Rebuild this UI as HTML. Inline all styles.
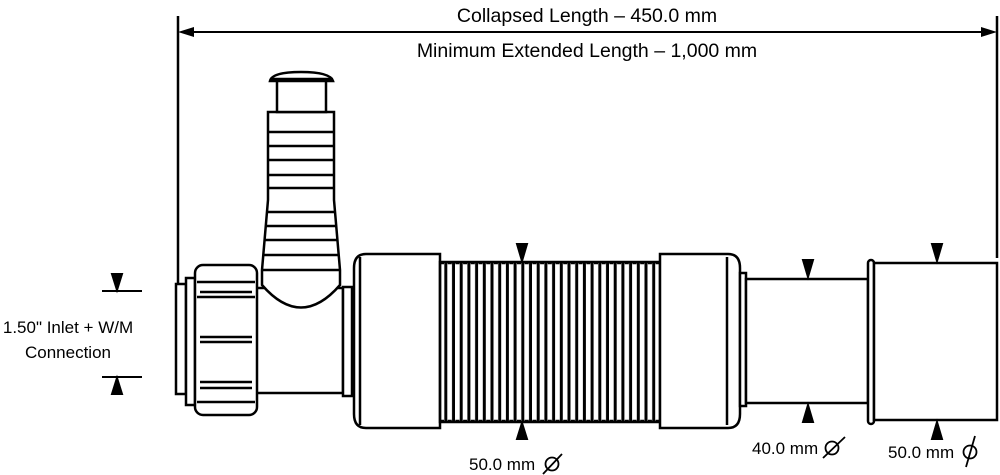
<!DOCTYPE html>
<html><head><style>html,body{margin:0;padding:0;background:#fff}svg{display:block}</style></head>
<body>
<svg width="1000" height="475" viewBox="0 0 1000 475" xmlns="http://www.w3.org/2000/svg" font-family="Liberation Sans, sans-serif">
<defs>
<pattern id="corr" x="442" y="0" width="7.7" height="10" patternUnits="userSpaceOnUse">
<line x1="3.8" y1="0" x2="3.8" y2="10" stroke="#000" stroke-width="3"/>
</pattern>
</defs>
<g stroke="#000" fill="none" stroke-width="2.5">
<line x1="178" y1="16" x2="178" y2="285"/>
<line x1="997" y1="16" x2="997" y2="258"/>
<line x1="182" y1="32" x2="993" y2="32" stroke-width="2"/>
</g>
<polygon points="178,32 194,27 194,37" fill="#000"/>
<polygon points="997,32 981,27 981,37" fill="#000"/>
<text x="587" y="22" font-size="19.5" text-anchor="middle">Collapsed Length – 450.0 mm</text>
<text x="587" y="57" font-size="19.5" text-anchor="middle">Minimum Extended Length – 1,000 mm</text>

<g stroke="#000" fill="#fff" stroke-width="2.5">
<rect x="176" y="284" width="10" height="110"/>
<rect x="186" y="278" width="9" height="127"/>
<rect x="255" y="288" width="88" height="105"/>
<path d="M262,270 L268,200 L268,112 L334,112 L334,200 L340,270 L340,285 Q301,330 262,285 Z"/>
<rect x="277" y="80" width="49" height="32"/>
<path d="M270,81 Q272,72 301,72 Q330,72 333,81 Z"/>
<rect x="195" y="265" width="62" height="150" rx="8"/>
<rect x="343" y="287" width="9" height="109"/>
<path d="M366,254 L440,254 L440,428 L366,428 Q354,428 354,414 L354,268 Q354,254 366,254 Z"/>
<line x1="360" y1="257" x2="360" y2="425"/>
<rect x="440" y="262" width="220" height="160" fill="url(#corr)"/>
<path d="M660,254 L728,254 Q740,254 740,268 L740,414 Q740,428 728,428 L660,428 Z"/>
<line x1="727" y1="257" x2="727" y2="425"/>
<rect x="740" y="273" width="6" height="133"/>
<rect x="746" y="279" width="122" height="124"/>
<rect x="868" y="260" width="6" height="164" rx="3"/>
<rect x="874" y="263" width="123" height="157"/>
</g>
<g stroke="#000" stroke-width="2.5" fill="none">
<path d="M197,282 L255,282 M197,297 L255,297"/>
<path d="M200,292 h52 M200,342 h52 M200,337 h52 M200,382 h52 M200,388 h52"/>
<path d="M197,402 h58"/>
<path d="M268,132 h66 M268,146 h66 M268,160 h66 M268,175 h66 M268,188 h66 M266,212 h70 M265,226 h72 M264,240 h74 M263,255 h76 M262,270 h78"/>
<path d="M270,79 h63"/>
</g>
<g stroke="#000" stroke-width="2.5" fill="none">
<line x1="440" y1="263" x2="660" y2="263" stroke-dasharray="4 3.7"/>
<line x1="440" y1="421" x2="660" y2="421" stroke-dasharray="4 3.7"/>
</g>
<g fill="#000" stroke="#000" stroke-width="2">
<line x1="102" y1="291" x2="142" y2="291"/><line x1="102" y1="377" x2="142" y2="377"/>
<polygon points="112,274 122,274 117,290"/><polygon points="112,394 122,394 117,378"/>
<polygon points="517,244 527,244 522,261"/><polygon points="517,439 527,439 522,423"/>
<polygon points="803,260 813,260 808,277"/><polygon points="803,422 813,422 808,405"/>
<polygon points="932,244 942,244 937,261"/><polygon points="932,439 942,439 937,422"/>
</g>
<g font-size="17">
<text x="469" y="470">50.0 mm</text>
<text x="752" y="454">40.0 mm</text>
<text x="888" y="458">50.0 mm</text>
<text x="68" y="333" text-anchor="middle">1.50" Inlet + W/M</text>
<text x="68" y="358" text-anchor="middle">Connection</text>
</g>
<g stroke="#000" stroke-width="1.8" fill="none">
<circle cx="552" cy="464" r="6.5"/><line x1="543" y1="474" x2="562" y2="454"/>
<circle cx="832" cy="448" r="6.5"/><line x1="823" y1="458" x2="845" y2="437"/>
<circle cx="970" cy="452" r="6.5"/><line x1="966" y1="467" x2="975" y2="436"/>
</g>
</svg>
</body></html>
